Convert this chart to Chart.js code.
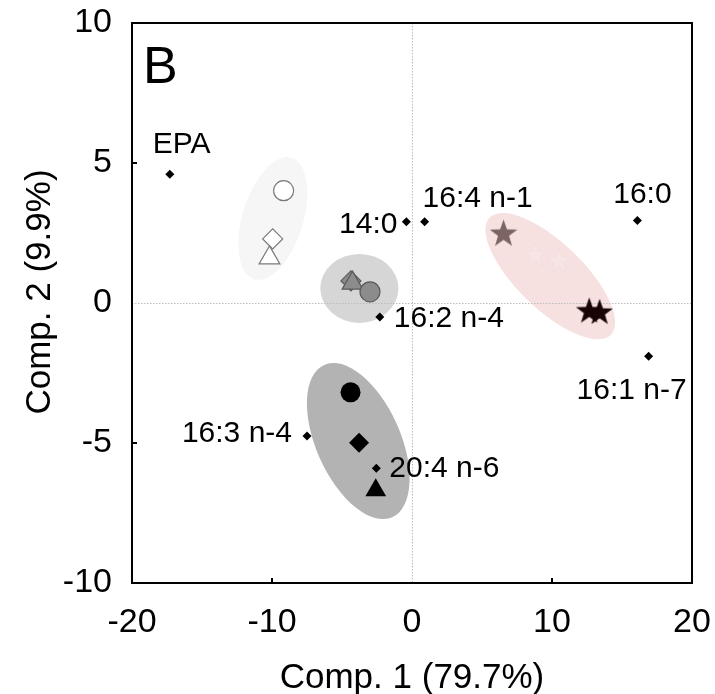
<!DOCTYPE html>
<html>
<head>
<meta charset="utf-8">
<title>PCA biplot</title>
<script src="https://cdn.jsdelivr.net/npm/chart.js@4.4.1/dist/chart.umd.min.js"></script>
<style>
  html, body { margin: 0; padding: 0; background: #fff; }
  #wrap { width: 715px; height: 694px; }
</style>
</head>
<body>
<div id="wrap"><canvas id="pca" width="715" height="694"></canvas></div>
<script>
// Fatty acid loadings
const loadingNames = ['EPA', '14:0', '16:4 n-1', '16:0', '16:1 n-7', '16:2 n-4', '16:3 n-4', '20:4 n-6'];
const loadingX = [-17.3, -0.4, 0.9, 16.1, 16.9, -2.3, -7.5, -2.55];
const loadingY = [4.6, 2.9, 2.9, 2.95, -1.9, -0.5, -4.75, -5.9];

// Sample scores per group, in the order diamond, triangle, circle
const lightX = [-9.95, -10.18, -9.17];
const lightY = [2.29, 1.61, 4.01];
const midX = [-4.36, -4.25, -3.0];
const midY = [0.79, 0.71, 0.40];
const darkX = [-3.78, -2.59, -4.39];
const darkY = [-4.99, -6.69, -3.19];

// Star group
const starX = [6.54, 8.8, 10.5, 12.66, 13.4];
const starY = [2.46, 1.7, 1.48, -0.30, -0.35];

// Group ellipses: centre plus two semi-axis vectors, in axis units
const ellipseCx = [-9.94, -3.76, -3.84, 9.88];
const ellipseCy = [3.02, 0.52, -4.93, 0.96];
const ellipseUx = [1.33, 2.79, 2.43, 4.33];
const ellipseUy = [2.17, 0, -2.72, -2.09];
const ellipseVx = [2.08, 0, 2.75, -1.64];
const ellipseVy = [-0.32, 1.23, 0.61, -0.85];

const xTicks = [-20, -10, 0, 10, 20];
const yTicks = [-10, -5, 0, 5, 10];

const FONT = '"Liberation Sans", Arial, sans-serif';
const ellipseFills = ['#f6f6f6', '#d6d6d6', '#b3b3b3', '#f6e0e0'];
const groupShapes = ['rectRot', 'triangle', 'circle'];
const groupSizes = [10, 12, 10];

// where each loading label sits relative to its marker (px, baseline)
const labelSpots = {
    'EPA': { dx: -17, dy: -21, align: 'left' },
    '14:0': { dx: -9, dy: 11, align: 'right' },
    '16:4 n-1': { dx: -2, dy: -15, align: 'left' },
    '16:0': { dx: 5, dy: -17, align: 'center' },
    '16:1 n-7': { dx: -17, dy: 43, align: 'center' },
    '16:2 n-4': { dx: 14, dy: 10, align: 'left' },
    '16:3 n-4': { dx: -15, dy: 6, align: 'right' },
    '20:4 n-6': { dx: 13, dy: 9, align: 'left' }
};

function starImage(r, fill, stroke) {
    const c = document.createElement('canvas');
    const s = Math.ceil(r * 2 + 4);
    c.width = s;
    c.height = s;
    const g = c.getContext('2d');
    g.translate(s / 2, s / 2);
    g.beginPath();
    for (let k = 0; k < 10; k++) {
        const rr = k % 2 ? r * 0.4 : r;
        const t = -Math.PI / 2 + k * Math.PI / 5;
        g.lineTo(rr * Math.cos(t), rr * Math.sin(t));
    }
    g.closePath();
    g.fillStyle = fill;
    g.fill();
    if (stroke) {
        g.strokeStyle = stroke;
        g.lineWidth = 1;
        g.stroke();
    }
    return c;
}

const starStyles = [
    starImage(14.5, '#7d6464'),
    starImage(13, 'rgba(255,255,255,0.15)', 'rgba(200,160,160,0.08)'),
    starImage(13, 'rgba(255,255,255,0.15)', 'rgba(200,160,160,0.08)'),
    starImage(14, '#180404'),
    starImage(14, '#180404')
];

const toPoints = (xs, ys) => xs.map((v, i) => ({ x: v, y: ys[i] }));

const decor = {
    id: 'decor',
    beforeDatasetsDraw(chart) {
        const { ctx, chartArea: a, scales: { x, y } } = chart;
        ctx.save();
        ellipseFills.forEach((fill, i) => {
            const cx = x.getPixelForValue(ellipseCx[i]);
            const cy = y.getPixelForValue(ellipseCy[i]);
            const ux = x.getPixelForValue(ellipseCx[i] + ellipseUx[i]) - cx;
            const uy = y.getPixelForValue(ellipseCy[i] + ellipseUy[i]) - cy;
            const vx = x.getPixelForValue(ellipseCx[i] + ellipseVx[i]) - cx;
            const vy = y.getPixelForValue(ellipseCy[i] + ellipseVy[i]) - cy;
            ctx.beginPath();
            ctx.ellipse(cx, cy, Math.hypot(ux, uy), Math.hypot(vx, vy), Math.atan2(uy, ux), 0, Math.PI * 2);
            ctx.fillStyle = fill;
            ctx.fill();
        });

        // dotted zero lines
        const x0 = Math.round(x.getPixelForValue(0)) + 0.5;
        const y0 = Math.round(y.getPixelForValue(0)) + 0.5;
        ctx.strokeStyle = '#bcbcbc';
        ctx.lineWidth = 1;
        ctx.setLineDash([1.5, 1.5]);
        ctx.beginPath();
        ctx.moveTo(x0, a.top);
        ctx.lineTo(x0, a.bottom);
        ctx.moveTo(a.left, y0);
        ctx.lineTo(a.right, y0);
        ctx.stroke();
        ctx.restore();
    },
    afterDatasetsDraw(chart) {
        const { ctx, scales: { x, y } } = chart;
        ctx.save();
        ctx.fillStyle = '#000';
        ctx.font = '30px ' + FONT;
        ctx.textBaseline = 'alphabetic';
        loadingNames.forEach((name, i) => {
            const spot = labelSpots[name];
            ctx.textAlign = spot.align;
            ctx.fillText(name, x.getPixelForValue(loadingX[i]) + spot.dx, y.getPixelForValue(loadingY[i]) + spot.dy);
        });
        ctx.restore();
    },
    afterDraw(chart) {
        const { ctx, chartArea: a, scales: { x, y } } = chart;
        ctx.save();
        // frame
        ctx.strokeStyle = '#000';
        ctx.lineWidth = 2;
        ctx.strokeRect(a.left, a.top, a.right - a.left, a.bottom - a.top);

        // inward tick marks
        ctx.beginPath();
        xTicks.forEach(v => {
            if (v === 0 || v === xTicks[0] || v === xTicks[xTicks.length - 1]) return;
            const px = x.getPixelForValue(v);
            ctx.moveTo(px, a.bottom);
            ctx.lineTo(px, a.bottom - 5);
        });
        yTicks.forEach(v => {
            if (v === 0 || v === yTicks[0] || v === yTicks[yTicks.length - 1]) return;
            const py = y.getPixelForValue(v);
            ctx.moveTo(a.left, py);
            ctx.lineTo(a.left + 5, py);
        });
        ctx.stroke();

        // axis titles
        ctx.fillStyle = '#000';
        ctx.font = '35px ' + FONT;
        ctx.textAlign = 'center';
        ctx.textBaseline = 'alphabetic';
        ctx.fillText('Comp. 1 (79.7%)', (a.left + a.right) / 2, 688);
        ctx.translate(50, 292);
        ctx.rotate(-Math.PI / 2);
        ctx.fillText('Comp. 2 (9.9%)', 0, 0);
        ctx.setTransform(1, 0, 0, 1, 0, 0);

        // panel letter
        ctx.font = '52px ' + FONT;
        ctx.textAlign = 'left';
        ctx.fillText('B', a.left + 11, 83);
        ctx.restore();
    }
};

const groupSet = (xs, ys, fill, edge, width) => ({
    data: toPoints(xs, ys),
    pointStyle: groupShapes,
    pointRadius: groupSizes,
    pointBackgroundColor: fill,
    pointBorderColor: edge,
    pointBorderWidth: width
});

new Chart(document.getElementById('pca'), {
    type: 'scatter',
    data: {
        datasets: [
            {
                data: toPoints(loadingX, loadingY),
                pointStyle: 'rectRot',
                pointRadius: 4.5,
                pointBackgroundColor: '#000',
                pointBorderColor: '#000',
                pointBorderWidth: 0
            },
            groupSet(darkX, darkY, '#000', '#000', 0),
            groupSet(midX, midY, '#8c8c8c', '#5a5a5a', 1.2),
            groupSet(lightX, lightY, '#fff', '#7a7a7a', 1.2),
            {
                data: toPoints(starX, starY),
                pointStyle: starStyles,
                pointRadius: 14
            }
        ]
    },
    options: {
        responsive: false,
        devicePixelRatio: 1,
        animation: false,
        layout: { padding: { left: 0, top: 23, right: 23, bottom: 0 } },
        plugins: { legend: { display: false }, tooltip: { enabled: false } },
        scales: {
            x: {
                type: 'linear',
                min: -20,
                max: 20,
                afterBuildTicks: s => { s.ticks = xTicks.map(v => ({ value: v })); },
                afterFit: s => { s.height = 111; s.paddingLeft = 0; s.paddingRight = 0; },
                grid: { display: false, drawTicks: false },
                border: { display: false },
                ticks: { color: '#000', font: { family: FONT, size: 34 }, padding: 19, maxRotation: 0 }
            },
            y: {
                type: 'linear',
                min: -10,
                max: 10,
                afterBuildTicks: s => { s.ticks = yTicks.map(v => ({ value: v })); },
                afterFit: s => { s.width = 132; s.paddingTop = 0; s.paddingBottom = 0; },
                grid: { display: false, drawTicks: false },
                border: { display: false },
                ticks: { color: '#000', font: { family: FONT, size: 34 }, padding: 20 }
            }
        }
    },
    plugins: [decor]
});
</script>
</body>
</html>
